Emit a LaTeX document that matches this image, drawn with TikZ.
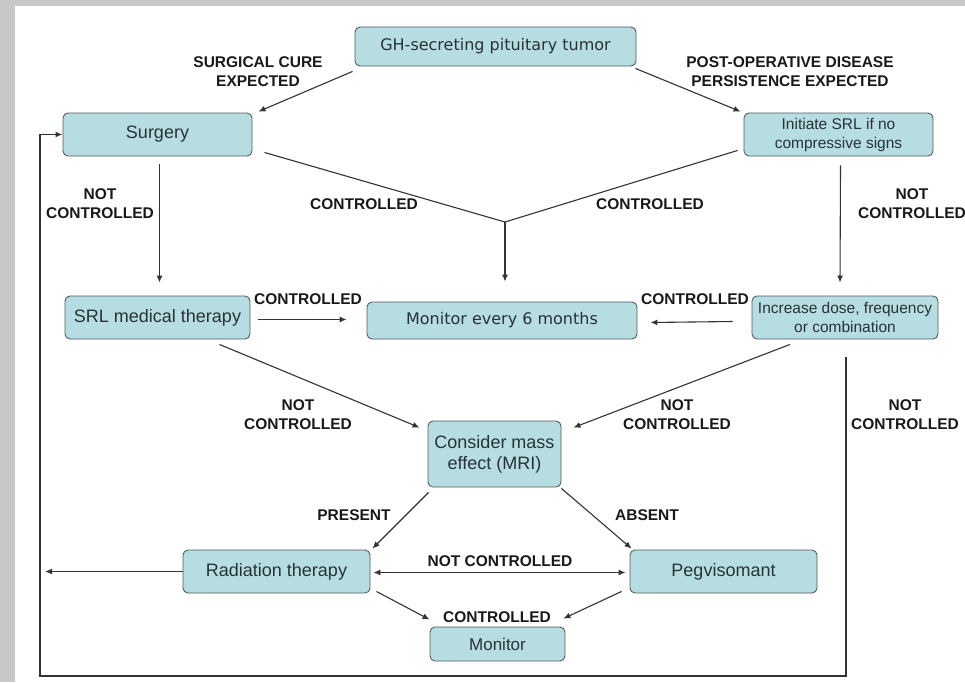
\documentclass[tikz,border=0pt]{standalone}
\usepackage{fontspec}
\setmainfont{Liberation Sans}
\newfontfamily\verdanaish{DejaVu Sans}
\usetikzlibrary{arrows.meta}
\definecolor{boxfill}{RGB}{182,221,226}
\definecolor{boxline}{RGB}{85,90,92}
\definecolor{boxtext}{RGB}{40,50,54}
\definecolor{frame}{RGB}{200,200,200}
\tikzset{
  box/.style={draw=boxline,fill=boxfill,rounded corners=5pt,inner sep=0pt,align=center,text=boxtext,line width=0.9pt,font=\fontsize{18}{21}\selectfont},
  smallbox/.style={box,font=\fontsize{15.5}{19}\selectfont},
  lbl/.style={align=center,text=black!90,font=\bfseries\fontsize{15.5}{19}\selectfont},
  arr/.style={-{Latex[length=7pt,width=6pt]},draw=black!80,line width=1.1pt},
  ln/.style={draw=black!80,line width=1.1pt},
}
\begin{document}
\begin{tikzpicture}[x=1pt,y=-1pt]
  \fill[frame] (0,0) rectangle (965,682);
  \fill[white] (15,6) rectangle (965,682);
  \useasboundingbox (0,0) rectangle (965,682);
  \node[box,minimum width=281,minimum height=39,font=\verdanaish\fontsize{16}{19}\selectfont] (gh) at (495.5,46.5) {GH-secreting pituitary tumor};
  \node[box,minimum width=189,minimum height=43] (surg) at (157.5,134.5) {Surgery};
  \node[smallbox,minimum width=189,minimum height=43] (init) at (838.5,134.5) {Initiate SRL if no\\compressive signs};
  \node[box,minimum width=185,minimum height=43] (srl) at (157.5,317.5) {SRL medical therapy};
  \node[box,minimum width=270,minimum height=37,font=\verdanaish\fontsize{16}{19}\selectfont] (mon6) at (502,320.5) {Monitor every 6 months};
  \node[smallbox,minimum width=186,minimum height=43] (inc) at (845,317.5) {Increase dose, frequency\\or combination};
  \node[box,minimum width=133,minimum height=66] (cons) at (494.5,454) {Consider mass\\effect (MRI)};
  \node[box,minimum width=187,minimum height=43] (rad) at (276.5,571.5) {Radiation therapy};
  \node[box,minimum width=187,minimum height=43] (peg) at (723.5,571.5) {Pegvisomant};
  \node[box,minimum width=135,minimum height=34,font=\fontsize{17}{20}\selectfont] (mon) at (497.5,644) {Monitor};

  \node[lbl] (lcure) at (258,72) {SURGICAL CURE\\EXPECTED};
  \node[lbl] (lpers) at (790,72) {POST-OPERATIVE DISEASE\\PERSISTENCE EXPECTED};
  \node[lbl] (lnc1) at (100,204) {NOT\\CONTROLLED};
  \node[lbl] (lc1) at (364,204) {CONTROLLED};
  \node[lbl] (lc2) at (650,204) {CONTROLLED};
  \node[lbl] (lnc2) at (912,204) {NOT\\CONTROLLED};
  \node[lbl] (lc3) at (308,299) {CONTROLLED};
  \node[lbl] (lc4) at (695,299) {CONTROLLED};
  \node[lbl] (lnc3) at (298,415) {NOT\\CONTROLLED};
  \node[lbl] (lnc4) at (677,415) {NOT\\CONTROLLED};
  \node[lbl] (lnc5) at (905,415) {NOT\\CONTROLLED};
  \node[lbl] (lpres) at (354,515) {PRESENT};
  \node[lbl] (labs) at (647,515) {ABSENT};
  \node[lbl] (lnc6) at (500,561) {NOT CONTROLLED};
  \node[lbl] (lc5) at (497,617) {CONTROLLED};

  \coordinate (jn) at (505,222);
  \coordinate (cl) at (40,676);
  \draw[arr] ([shift={(-2,5)}]gh.south west) -- ([shift={(6,-1)}]surg.north east);
  \draw[arr] ([shift={(-1,2)}]gh.south east) -- ([shift={(-3,-1)}]init.north west);
  \draw[ln] ([shift={(12,-4)}]surg.south east) -- (jn) -- ([shift={(-6,-6)}]init.south west);
  \draw[arr] (jn) -- ([shift={(0,-20)}]jn |- mon6.north);
  \draw[arr] ([shift={(2,8)}]surg.south) -- ([shift={(2,-13)}]srl.north);
  \draw[arr] ([shift={(2,9)}]init.south) -- ([shift={(-5,-13)}]inc.north);
  \draw[arr] ([shift={(8,2)}]srl.east) -- ([shift={(-20,-1)}]mon6.west);
  \draw[arr] ([shift={(-19,4)}]inc.west) -- ([shift={(13,2)}]mon6.east);
  \draw[arr] ([shift={(62,5)}]srl.south) -- ([shift={(-8,7)}]cons.north west);
  \draw[arr] ([shift={(-55,5)}]inc.south) -- ([shift={(12,7)}]cons.north east);
  \draw[arr,line width=1.6pt] ([shift={(1,18)}]inc.south) |- (cl) |- (surg.west);
  \draw[arr] ([shift={(1,5)}]cons.south west) -- ([shift={(2,-1)}]rad.north east);
  \draw[arr] ([shift={(0,1)}]cons.south east) -- ([shift={(2,-1)}]peg.north west);
  \draw[{Latex[length=7pt,width=6pt]}-{Latex[length=7pt,width=6pt]},ln] ([shift={(3,1)}]rad.east) -- ([shift={(-4,1)}]peg.west);
  \draw[arr] (rad.west) -- ([shift={(5,0)}]rad.west -| cl);
  \draw[arr] ([shift={(6,-2)}]rad.south east) -- ([shift={(0,-7)}]mon.north west);
  \draw[arr] ([shift={(-8,-2)}]peg.south west) -- ([shift={(-2,-8)}]mon.north east);
\end{tikzpicture}
\end{document}
